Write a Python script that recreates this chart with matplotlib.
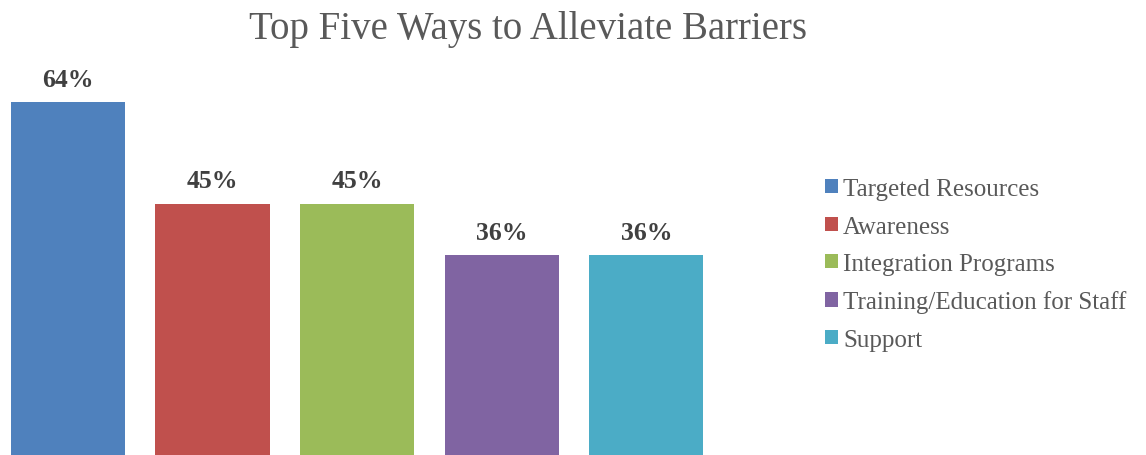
import matplotlib.pyplot as plt
from matplotlib.patches import Patch

categories = ['Targeted Resources', 'Awareness', 'Integration Programs',
              'Training/Education for Staff', 'Support']
values = [63.6, 45.5, 45.5, 36.4, 36.4]
labels = ['64%', '45%', '45%', '36%', '36%']
colors = ['#4F81BD', '#C0504D', '#9BBB59', '#8064A2', '#4BACC6']

plt.rcParams['font.family'] = ['Liberation Serif', 'DejaVu Serif']

fig = plt.figure(figsize=(11.46, 4.56), dpi=100)
# axes placed so the baseline sits just below the bottom edge
ax = fig.add_axes([0, -4 / 456, 720 / 1146, 393 / 456])
x = list(range(len(values)))
bars = ax.bar(x, values, width=0.79, color=colors)
ax.set_xlim(-0.47, 4.51)
ax.set_ylim(0, 70)
ax.axis('off')

for bar, lab in zip(bars, labels):
    ax.annotate(lab, (bar.get_x() + bar.get_width() / 2, bar.get_height()),
                xytext=(0, 8), textcoords='offset points',
                ha='center', va='bottom', fontsize=18.5, fontweight='bold',
                color='#404040')

fig.text(528 / 1146, 1 - 29 / 456, 'Top Five Ways to Alleviate Barriers',
         ha='center', va='center', fontsize=28, color='#595959')

handles = [Patch(facecolor=c, edgecolor='none') for c in colors]
fig.legend(handles, categories, loc='upper left',
           bbox_to_anchor=(815 / 1146, 1 - 169 / 456), frameon=False,
           fontsize=18, labelcolor='#595959', handlelength=0.5,
           handleheight=0.5, handletextpad=0.22, labelspacing=0.62,
           borderaxespad=0)

plt.savefig('out.png', dpi=100)
plt.close()
